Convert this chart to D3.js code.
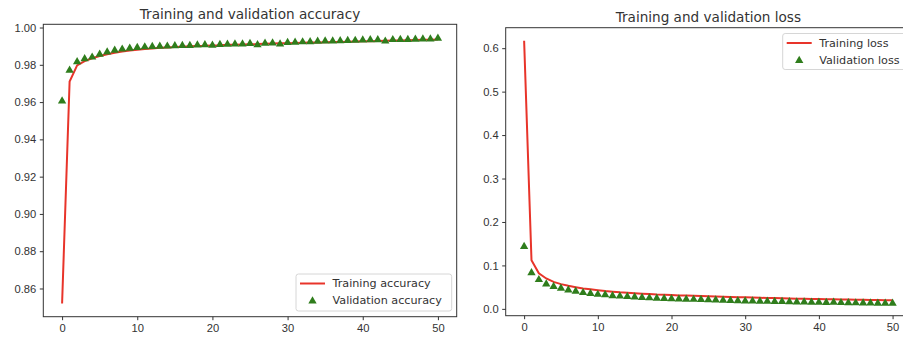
<!DOCTYPE html>
<html>
<head>
<meta charset="utf-8">
<script src="https://cdn.jsdelivr.net/npm/d3@7"></script>
<style>
  body { margin: 0; background: #fff; }
  svg { display: block; font-family: "DejaVu Sans", sans-serif; }
  .axis text { fill: #333; font-size: 11.2px; }
  .axis path, .axis line { stroke: #333; }
</style>
</head>
<body>
<svg id="vis-svg"></svg>
<script>
// epochs 0..50
var epochs = d3.range(0, 51);
var xTicks = [0, 10, 20, 30, 40, 50];
var accTicks = [0.86, 0.88, 0.90, 0.92, 0.94, 0.96, 0.98, 1.00];
var lossTicks = [0.0, 0.1, 0.2, 0.3, 0.4, 0.5, 0.6];

var trainAcc = [0.852, 0.971, 0.9797, 0.982, 0.9835, 0.9847, 0.9857, 0.9865, 0.9871, 0.9877,
  0.9881, 0.9885, 0.9888, 0.9891, 0.9893, 0.9895, 0.9897, 0.9899, 0.9901, 0.9902,
  0.9904, 0.9905, 0.9907, 0.9908, 0.9909, 0.991, 0.9911, 0.9913, 0.9914, 0.9915,
  0.9916, 0.9917, 0.9918, 0.9919, 0.992, 0.9921, 0.9922, 0.9923, 0.9924, 0.9925,
  0.9926, 0.9927, 0.9928, 0.9929, 0.993, 0.9931, 0.9932, 0.9933, 0.9934, 0.9935, 0.9936];

var valAcc = [0.961, 0.9775, 0.982, 0.9836, 0.9845, 0.986, 0.9873, 0.9882, 0.9888, 0.9893,
  0.9897, 0.99, 0.9902, 0.9903, 0.9904, 0.9906, 0.9907, 0.9908, 0.991, 0.9911,
  0.9909, 0.9913, 0.9914, 0.9915, 0.9916, 0.9918, 0.9912, 0.992, 0.9921, 0.9916,
  0.9924, 0.9925, 0.9927, 0.9928, 0.993, 0.9932, 0.9932, 0.9933, 0.9934, 0.9935,
  0.9937, 0.9938, 0.9938, 0.9931, 0.9939, 0.994, 0.994, 0.9941, 0.9942, 0.9942, 0.9946];

var trainLoss = [0.617, 0.112, 0.082, 0.07, 0.062, 0.057, 0.053, 0.05, 0.047, 0.045,
  0.043, 0.041, 0.0395, 0.038, 0.037, 0.036, 0.035, 0.034, 0.033, 0.0325,
  0.032, 0.031, 0.0305, 0.03, 0.0295, 0.029, 0.0285, 0.028, 0.0275, 0.027,
  0.0265, 0.026, 0.0255, 0.025, 0.0248, 0.0245, 0.024, 0.0235, 0.023, 0.0228,
  0.0225, 0.0222, 0.022, 0.0217, 0.0214, 0.0211, 0.0208, 0.0205, 0.0202, 0.02, 0.0198];

var valLoss = [0.145, 0.085, 0.069, 0.059, 0.053, 0.049, 0.045, 0.042, 0.039, 0.037,
  0.035, 0.034, 0.032, 0.031, 0.03, 0.029, 0.028, 0.027, 0.026, 0.0255,
  0.025, 0.0245, 0.024, 0.0235, 0.023, 0.0225, 0.022, 0.0215, 0.021, 0.0205,
  0.02, 0.0197, 0.0194, 0.019, 0.0187, 0.0184, 0.018, 0.0177, 0.0174, 0.0171,
  0.0168, 0.0165, 0.0168, 0.016, 0.0158, 0.0155, 0.0152, 0.015, 0.0148, 0.0146, 0.0144];

var RED = "#e8342a";
var GREEN = "#2f7d1c";

var width = 903;
var height = 337;

var svg = d3.select('#vis-svg')
  .attr('width', width)
  .attr('height', height);

// matplotlib style 5% padding around data
function padded(lo, hi) {
  var pad = (hi - lo) * 0.05;
  return [lo - pad, hi + pad];
}

/**
 * Draws one panel: red training line + green triangle validation markers
 */
function drawPanel(opt) {
  var g = svg.append('g');

  var xScale = d3.scaleLinear()
    .domain(padded(0, 50))
    .range([opt.left, opt.right]);

  var all = opt.train.concat(opt.val);
  var yScale = d3.scaleLinear()
    .domain(padded(d3.min(all), d3.max(all)))
    .range([opt.bottom, opt.top]);

  // axes
  g.append('g')
    .attr('class', 'axis')
    .attr('transform', `translate(0,${opt.bottom})`)
    .call(d3.axisBottom(xScale).tickValues(xTicks).tickFormat(d3.format('d'))
      .tickSize(3.5).tickPadding(3.5).tickSizeOuter(0));

  g.append('g')
    .attr('class', 'axis')
    .attr('transform', `translate(${opt.left},0)`)
    .call(d3.axisLeft(yScale).tickValues(opt.yTicks).tickFormat(d3.format(opt.fmt))
      .tickSize(3.5).tickPadding(3.5).tickSizeOuter(0));

  g.selectAll('.axis .domain').remove();

  // frame
  g.append('rect')
    .attr('x', opt.left)
    .attr('y', opt.top)
    .attr('width', opt.right - opt.left)
    .attr('height', opt.bottom - opt.top)
    .attr('fill', 'none')
    .attr('stroke', '#333')
    .attr('stroke-width', 1);

  // training line
  var line = d3.line()
    .x(function(d, i) { return xScale(epochs[i]); })
    .y(function(d) { return yScale(d); });

  g.append('path')
    .datum(opt.train)
    .attr('d', line)
    .attr('fill', 'none')
    .attr('stroke', RED)
    .attr('stroke-width', 2);

  // validation markers
  var tri = d3.symbol().type(d3.symbolTriangle).size(30);
  g.selectAll('.tri')
    .data(opt.val)
    .enter()
    .append('path')
    .attr('class', 'tri')
    .attr('d', tri)
    .attr('transform', function(d, i) {
      return `translate(${xScale(epochs[i])},${yScale(d) + 0.8})`;
    })
    .attr('fill', GREEN);

  // title
  g.append('text')
    .attr('x', (opt.left + opt.right) / 2)
    .attr('y', opt.top - 5.5)
    .attr('text-anchor', 'middle')
    .attr('font-size', '13.6px')
    .attr('fill', '#333')
    .text(opt.title);

  // legend
  var lg = opt.legend;
  g.append('rect')
    .attr('x', lg.x)
    .attr('y', lg.y)
    .attr('width', lg.w)
    .attr('height', lg.h)
    .attr('rx', 2.5)
    .attr('fill', 'rgba(255,255,255,0.8)')
    .attr('stroke', '#d6d6d6');

  var row1 = lg.y + 9.5;
  var row2 = lg.y + 26.2;
  g.append('line')
    .attr('x1', lg.x + 4)
    .attr('x2', lg.x + 29)
    .attr('y1', row1)
    .attr('y2', row1)
    .attr('stroke', RED)
    .attr('stroke-width', 2);
  g.append('path')
    .attr('d', tri)
    .attr('transform', `translate(${lg.x + 16.5},${row2 + 0.8})`)
    .attr('fill', GREEN);

  [[opt.labels[0], row1], [opt.labels[1], row2]].forEach(function(e) {
    g.append('text')
      .attr('x', lg.x + 36.5)
      .attr('y', e[1])
      .attr('dy', '0.35em')
      .attr('font-size', '11.2px')
      .attr('fill', '#333')
      .text(e[0]);
  });
}

drawPanel({
  left: 43.3, right: 456.7, top: 24.3, bottom: 316.7,
  train: trainAcc, val: valAcc,
  yTicks: accTicks, fmt: '.2f',
  title: 'Training and validation accuracy',
  labels: ['Training accuracy', 'Validation accuracy'],
  legend: {x: 296, y: 274, w: 155.7, h: 37}
});

drawPanel({
  left: 505.7, right: 911, top: 27.7, bottom: 315.7,
  train: trainLoss, val: valLoss,
  yTicks: lossTicks, fmt: '.1f',
  title: 'Training and validation loss',
  labels: ['Training loss', 'Validation loss'],
  legend: {x: 782.7, y: 33.5, w: 123.3, h: 36}
});
</script>
</body>
</html>
